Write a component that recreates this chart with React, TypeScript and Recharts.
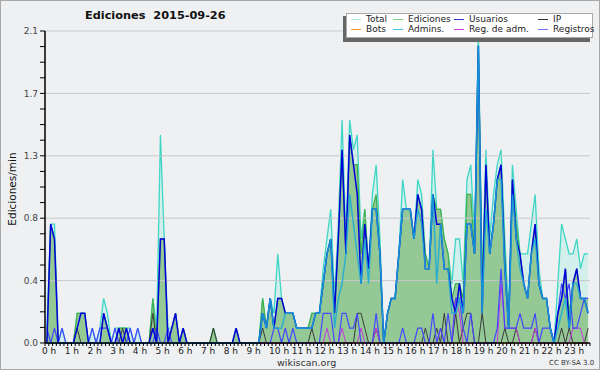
import { ComposedChart, Area, Line, XAxis, YAxis, ReferenceLine } from 'recharts'

// edits per 10-minute slot, one row per hour (6 slots)
const totalCounts = [
  1, 8, 8, 0, 1, 0, 0, 0, 2, 2, 2, 0, 1, 0, 1, 3, 2, 0, 1, 1, 1, 1, 1, 0,
  1, 0, 0, 0, 3, 1, 14, 7, 1, 1, 2, 0, 1, 0, 0, 0, 0, 0, 0, 0, 1, 0, 0, 0,
  0, 0, 1, 0, 0, 0, 0, 0, 0, 3, 1, 3, 2, 6, 3, 2, 2, 2, 1, 1, 1, 1, 2, 2,
  2, 5, 7, 9, 3, 8, 15, 7, 15, 13, 14, 7, 9, 5, 10, 12, 7, 0, 2, 3, 3, 6, 11, 9,
  9, 7, 11, 10, 6, 5, 13, 9, 9, 7, 6, 4, 7, 7, 4, 11, 12, 7, 21, 4, 13, 7, 10, 12,
  13, 7, 2, 12, 9, 6, 6, 6, 8, 10, 5, 3, 3, 1, 0, 4, 8, 7, 6, 6, 7, 5, 6, 6,
]
const editCounts = [
  0, 8, 7, 0, 0, 0, 0, 0, 2, 2, 2, 0, 0, 0, 0, 2, 1, 0, 0, 1, 1, 1, 0, 0,
  0, 0, 0, 0, 3, 0, 7, 7, 0, 1, 2, 0, 1, 0, 0, 0, 0, 0, 0, 0, 1, 0, 0, 0,
  0, 0, 1, 0, 0, 0, 0, 0, 0, 3, 1, 3, 1, 3, 3, 2, 2, 2, 1, 1, 1, 1, 2, 2,
  2, 4, 6, 7, 2, 7, 13, 6, 14, 12, 12, 6, 9, 5, 9, 10, 6, 0, 2, 3, 3, 6, 9, 9,
  9, 7, 10, 9, 6, 5, 10, 9, 9, 7, 6, 3, 4, 4, 3, 10, 10, 6, 20, 4, 12, 6, 8, 11,
  12, 6, 1, 11, 8, 6, 4, 3, 6, 8, 4, 3, 3, 1, 0, 2, 3, 5, 2, 4, 5, 3, 3, 3,
]
const userCounts = [
  0, 8, 7, 0, 0, 0, 0, 0, 1, 2, 2, 0, 0, 0, 0, 2, 1, 0, 0, 1, 0, 1, 0, 0,
  0, 0, 0, 0, 1, 0, 7, 7, 0, 1, 2, 0, 1, 0, 0, 0, 0, 0, 0, 0, 0, 0, 0, 0,
  0, 0, 1, 0, 0, 0, 0, 0, 0, 2, 1, 3, 1, 3, 3, 2, 2, 2, 1, 1, 1, 1, 1, 2,
  2, 4, 6, 7, 2, 7, 13, 6, 14, 12, 10, 4, 8, 5, 9, 9, 6, 0, 2, 3, 3, 6, 9, 9,
  9, 7, 10, 9, 5, 5, 10, 8, 8, 5, 5, 3, 2, 4, 2, 8, 8, 6, 20, 2, 12, 6, 8, 11,
  12, 5, 1, 11, 7, 6, 4, 3, 6, 8, 4, 3, 3, 1, 0, 2, 3, 5, 1, 4, 5, 3, 3, 2,
]
const ipCounts = [
  0, 0, 0, 0, 0, 0, 0, 0, 1, 0, 0, 0, 0, 0, 0, 0, 0, 0, 0, 0, 1, 0, 0, 0,
  0, 0, 0, 0, 2, 0, 0, 0, 0, 0, 0, 0, 0, 0, 0, 0, 0, 0, 0, 0, 1, 0, 0, 0,
  0, 0, 0, 0, 0, 0, 0, 0, 0, 1, 0, 0, 0, 0, 0, 0, 0, 0, 0, 0, 0, 0, 1, 0,
  0, 0, 0, 0, 0, 0, 0, 0, 0, 0, 2, 2, 1, 0, 0, 1, 0, 0, 0, 0, 0, 0, 0, 0,
  0, 0, 0, 0, 1, 0, 0, 1, 0, 2, 0, 0, 2, 0, 1, 2, 2, 0, 0, 2, 0, 0, 0, 0,
  0, 1, 0, 0, 1, 0, 0, 0, 0, 1, 0, 0, 0, 0, 0, 0, 1, 0, 1, 0, 0, 0, 0, 1,
]
const botCounts = new Array(144).fill(0)
const adminCounts = [
  0, 0, 0, 0, 0, 0, 0, 0, 0, 0, 0, 0, 0, 0, 0, 0, 0, 0, 0, 0, 0, 0, 0, 0,
  0, 0, 0, 0, 0, 0, 0, 0, 0, 0, 0, 0, 0, 0, 0, 0, 0, 0, 0, 0, 0, 0, 0, 0,
  0, 0, 0, 0, 0, 0, 0, 0, 0, 2, 1, 3, 1, 1, 1, 2, 2, 2, 1, 1, 1, 1, 1, 2,
  2, 4, 6, 7, 1, 3, 4, 6, 10, 8, 6, 4, 7, 4, 9, 9, 6, 0, 2, 3, 3, 6, 9, 9,
  9, 7, 9, 8, 5, 5, 10, 4, 8, 5, 5, 2, 2, 3, 2, 8, 8, 6, 20, 2, 9, 6, 8, 11,
  11, 5, 1, 10, 7, 5, 4, 3, 6, 7, 4, 3, 3, 1, 0, 1, 2, 3, 1, 4, 4, 3, 3, 2,
]
const adminLogCounts = [
  0, 0, 0, 0, 0, 0, 0, 0, 0, 0, 0, 0, 0, 0, 0, 0, 0, 0, 0, 0, 0, 0, 0, 0,
  0, 0, 0, 0, 0, 0, 0, 0, 0, 0, 0, 0, 0, 0, 0, 0, 0, 0, 0, 0, 0, 0, 0, 0,
  0, 0, 0, 0, 0, 0, 0, 0, 0, 0, 0, 0, 0, 0, 0, 0, 0, 0, 0, 0, 0, 0, 0, 0,
  0, 0, 1, 0, 0, 0, 1, 0, 0, 0, 0, 1, 0, 0, 0, 1, 0, 0, 0, 0, 0, 0, 0, 0,
  0, 0, 0, 0, 0, 0, 0, 0, 1, 0, 0, 0, 3, 2, 0, 0, 0, 0, 0, 0, 0, 0, 0, 0,
  4, 1, 1, 1, 1, 0, 0, 0, 0, 1, 0, 0, 0, 0, 0, 0, 0, 0, 0, 1, 1, 1, 0, 0,
]
const logCounts = [
  1, 0, 1, 0, 1, 0, 0, 0, 0, 0, 0, 0, 1, 0, 1, 1, 1, 0, 1, 0, 0, 0, 1, 0,
  1, 0, 0, 0, 0, 1, 0, 0, 1, 0, 0, 0, 0, 0, 0, 0, 0, 0, 0, 0, 0, 0, 0, 0,
  0, 0, 0, 0, 0, 0, 0, 0, 0, 0, 0, 0, 1, 1, 0, 1, 0, 1, 0, 0, 0, 0, 0, 0,
  0, 2, 2, 2, 0, 0, 2, 2, 1, 1, 2, 0, 0, 0, 0, 2, 0, 0, 0, 0, 0, 0, 1, 0,
  0, 0, 1, 1, 0, 0, 2, 0, 1, 0, 2, 0, 3, 3, 1, 0, 2, 0, 0, 0, 0, 0, 0, 1,
  5, 1, 1, 1, 1, 2, 1, 1, 1, 2, 0, 1, 1, 1, 0, 2, 4, 3, 4, 1, 1, 2, 3, 3,
]

const hourLabels = [
  '0 h', '1 h', '2 h', '3 h', '4 h', '5 h', '6 h', '7 h', '8 h', '9 h', '10 h', '11 h',
  '12 h', '13 h', '14 h', '15 h', '16 h', '17 h', '18 h', '19 h', '20 h', '21 h', '22 h', '23 h',
]
const yTicks = [
  0, 0.105, 0.21, 0.315, 0.42, 0.525, 0.63, 0.735, 0.84, 0.945, 1.05,
  1.155, 1.26, 1.365, 1.47, 1.575, 1.68, 1.785, 1.89, 1.995, 2.1,
]
const yMajor = [0, 0.42, 0.84, 1.26, 1.68, 2.1]

const legendRows = [
  [
    { name: 'Total', color: '#a8e6dc' },
    { name: 'Ediciones', color: '#7fcf7f' },
    { name: 'Usuarios', color: '#3030d0' },
    { name: 'IP', color: '#333333' },
  ],
  [
    { name: 'Bots', color: '#ff9a2a' },
    { name: 'Admins.', color: '#3cc8e0' },
    { name: 'Reg. de adm.', color: '#d040d8' },
    { name: 'Registros', color: '#7070f0' },
  ],
]
const legendCols = [350, 392, 453, 537]

const FONT = '"DejaVu Sans", Verdana, sans-serif'

// per-minute rate = edits in the 10 min slot / 10
const data = totalCounts.map((t, i) => ({
  slot: i + 0.5,
  total: t / 10,
  edits: editCounts[i] / 10,
  users: userCounts[i] / 10,
  ip: ipCounts[i] / 10,
  bots: botCounts[i] / 10,
  admins: adminCounts[i] / 10,
  adminLogs: adminLogCounts[i] / 10,
  logs: logCounts[i] / 10,
}))

const xTicks = Array.from({ length: 145 }, (_, i) => i)

function HourTick({ x, y, payload }: any) {
  const v = payload.value
  if (v % 6 !== 0 || v >= 144) return <g />
  return (
    <text x={x - 3} y={y} dy={6} fontSize={9} fontFamily={FONT} fill="#222">
      {hourLabels[v / 6]}
    </text>
  )
}

function fmtY(v: number): string {
  return yMajor.some((m) => Math.abs(m - v) < 1e-6) ? v.toFixed(1) : ''
}

export default function App() {
  return (
    <div
      style={{
        position: 'fixed', left: 0, top: 0, width: 600, height: 370,
        background: '#eef0f2', boxSizing: 'border-box', border: '1px solid #a8a8a8',
        fontFamily: FONT,
      }}
    >
      <div style={{ position: 'absolute', left: 0, top: 0 }}>
        <ComposedChart width={598} height={368} data={data} margin={{ top: 30, right: 9, bottom: 6, left: 0 }}>
          {yMajor.map((v) => (
            <ReferenceLine key={v} y={v} stroke="#c8c8c8" strokeWidth={1} />
          ))}
          <XAxis
            type="number"
            dataKey="slot"
            domain={[0, 144]}
            ticks={xTicks}
            interval={0}
            tick={<HourTick />}
            tickSize={3}
            tickLine={{ stroke: '#000' }}
            axisLine={{ stroke: '#000', strokeWidth: 1.5 }}
            height={20}
          />
          <YAxis
            type="number"
            domain={[0, 2.1]}
            ticks={yTicks}
            interval={0}
            tickFormatter={fmtY}
            tick={{ fontSize: 9, fill: '#444', fontFamily: FONT }}
            tickSize={5}
            tickMargin={2}
            tickLine={{ stroke: '#000' }}
            axisLine={{ stroke: '#000', strokeWidth: 1.5 }}
            width={44}
          />
          <Area type="linear" dataKey="total" stroke="#3ed6c6" strokeWidth={1.3} fill="#d2efeb" fillOpacity={1} isAnimationActive={false} dot={false} />
          <Area type="linear" dataKey="edits" stroke="#3fb04a" strokeWidth={1.2} fill="#94c995" fillOpacity={1} isAnimationActive={false} dot={false} />
          <Line type="linear" dataKey="bots" stroke="#ff9a2a" strokeWidth={1} dot={false} isAnimationActive={false} />
          <Line type="linear" dataKey="ip" stroke="#3a3a3a" strokeWidth={1} dot={false} isAnimationActive={false} />
          <Line type="linear" dataKey="adminLogs" stroke="#c638d8" strokeWidth={1} dot={false} isAnimationActive={false} />
          <Line type="linear" dataKey="logs" stroke="#4646ff" strokeWidth={1.2} dot={false} isAnimationActive={false} />
          <Line type="linear" dataKey="users" stroke="#0000dc" strokeWidth={1.5} dot={false} isAnimationActive={false} />
          <Line type="linear" dataKey="admins" stroke="#1aaad8" strokeWidth={1.5} strokeOpacity={0.85} dot={false} isAnimationActive={false} />
        </ComposedChart>
      </div>

      <div style={{ position: 'absolute', left: 84, top: 8, fontSize: 11.3, fontWeight: 'bold', color: '#111', whiteSpace: 'pre' }}>
        {'Ediciones  2015-09-26'}
      </div>

      <div
        style={{
          position: 'absolute', left: 11, top: 188, fontSize: 10.5, color: '#111',
          transform: 'translate(-50%, -50%) rotate(-90deg)', whiteSpace: 'nowrap',
        }}
      >
        Ediciones/min
      </div>

      {/* legend */}
      <div style={{ position: 'absolute', left: 342, top: 15, width: 247, height: 26, background: '#666' }} />
      <div
        style={{
          position: 'absolute', left: 345, top: 12, width: 247, height: 25,
          background: '#fff', border: '1px solid #aaa', boxSizing: 'border-box',
        }}
      />
      {legendRows.map((row, r) =>
        row.map((item, c) => (
          <div
            key={item.name}
            style={{ position: 'absolute', left: legendCols[c], top: 13 + r * 10, height: 10, display: 'flex', alignItems: 'center', fontSize: 9, color: '#222', whiteSpace: 'nowrap' }}
          >
            <span style={{ display: 'inline-block', width: 10, height: 1, background: item.color, marginRight: 5 }} />
            {item.name}
          </div>
        )),
      )}

      <div style={{ position: 'absolute', left: 276, top: 356, fontSize: 9.5, lineHeight: '11px', color: '#333' }}>wikiscan.org</div>
      <div style={{ position: 'absolute', left: 548, top: 358, fontSize: 7, lineHeight: '8px', color: '#333' }}>CC BY-SA 3.0</div>
    </div>
  )
}
